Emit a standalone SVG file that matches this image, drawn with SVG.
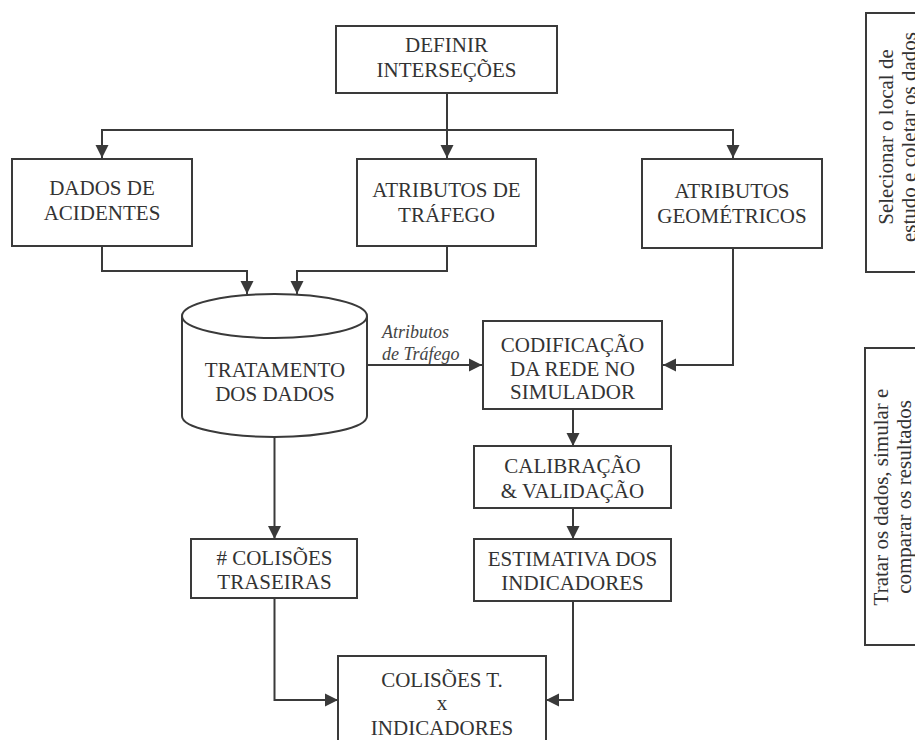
<svg xmlns="http://www.w3.org/2000/svg" width="915" height="740" viewBox="0 0 915 740">
<style>
.box{fill:#fff;stroke:#3a3a3a;stroke-width:2}
.t{font-family:"Liberation Serif","Times New Roman",serif;font-size:21px;fill:#333;text-anchor:middle}
.it{font-family:"Liberation Serif","Times New Roman",serif;font-size:18px;font-style:italic;fill:#444}
.c{fill:none;stroke:#3a3a3a;stroke-width:2}
</style>
<defs>
<marker id="ah" markerUnits="userSpaceOnUse" markerWidth="14" markerHeight="14" viewBox="0 0 14 14" refX="13" refY="7" orient="auto">
<path d="M0,0.5 L13,7 L0,13.5 Z" fill="#3a3a3a"/>
</marker>
</defs>
<rect width="915" height="740" fill="#fff"/>
<g id="connectors">
<path class="c" d="M447,93 V158" marker-end="url(#ah)"/>
<path class="c" d="M447,130 H102 V158" marker-end="url(#ah)"/>
<path class="c" d="M447,130 H733 V158" marker-end="url(#ah)"/>
<path class="c" d="M102,246 V271 H247 V294" marker-end="url(#ah)"/>
<path class="c" d="M447,246 V271 H297 V294" marker-end="url(#ah)"/>
<path class="c" d="M367,365 H482" marker-end="url(#ah)"/>
<path class="c" d="M733,248 V365 H663" marker-end="url(#ah)"/>
<path class="c" d="M274.5,437 V539" marker-end="url(#ah)"/>
<path class="c" d="M573,409 V446" marker-end="url(#ah)"/>
<path class="c" d="M573,508 V539" marker-end="url(#ah)"/>
<path class="c" d="M274.5,598 V700 H338" marker-end="url(#ah)"/>
<path class="c" d="M573,601 V700 H546" marker-end="url(#ah)"/>
<text class="it" x="382" y="338">Atributos</text>
<text class="it" x="382" y="360">de Tráfego</text>
</g>
<g id="definir">
<rect class="box" x="336" y="26" width="221" height="67"/>
<text class="t" x="446.5" y="52">DEFINIR</text>
<text class="t" x="446.5" y="77">INTERSEÇÕES</text>
</g>
<g id="dados-acidentes">
<rect class="box" x="12" y="159" width="180" height="87"/>
<text class="t" x="102" y="195">DADOS DE</text>
<text class="t" x="102" y="220">ACIDENTES</text>
</g>
<g id="atributos-trafego">
<rect class="box" x="357" y="159" width="179" height="87"/>
<text class="t" x="446.5" y="197">ATRIBUTOS DE</text>
<text class="t" x="446.5" y="222">TRÁFEGO</text>
</g>
<g id="atributos-geometricos">
<rect class="box" x="642" y="159" width="180" height="89"/>
<text class="t" x="732" y="198">ATRIBUTOS</text>
<text class="t" x="732" y="223">GEOMÉTRICOS</text>
</g>
<g id="tratamento">
<path class="box" d="M182,316 A92.5,22 0 0 1 367,316 V416 A92.5,21 0 0 1 182,416 Z"/>
<path class="c" d="M182,316 A92.5,22 0 0 0 367,316"/>
<text class="t" x="275" y="377">TRATAMENTO</text>
<text class="t" x="275" y="401">DOS DADOS</text>
</g>
<g id="codificacao">
<rect class="box" x="483" y="321" width="179" height="88"/>
<text class="t" x="572.5" y="352">CODIFICAÇÃO</text>
<text class="t" x="572.5" y="376">DA REDE NO</text>
<text class="t" x="572.5" y="399">SIMULADOR</text>
</g>
<g id="calibracao">
<rect class="box" x="474" y="446" width="197" height="62"/>
<text class="t" x="572.5" y="473">CALIBRAÇÃO</text>
<text class="t" x="572.5" y="498">&amp; VALIDAÇÃO</text>
</g>
<g id="estimativa">
<rect class="box" x="474" y="539" width="197" height="62"/>
<text class="t" x="572.5" y="566">ESTIMATIVA DOS</text>
<text class="t" x="572.5" y="590">INDICADORES</text>
</g>
<g id="colisoes-traseiras">
<rect class="box" x="191" y="539" width="166" height="59"/>
<text class="t" x="274.5" y="565">#  COLISÕES</text>
<text class="t" x="274.5" y="589">TRASEIRAS</text>
</g>
<g id="colisoes-indicadores">
<rect class="box" x="338" y="656" width="208" height="100"/>
<text class="t" x="442" y="687">COLISÕES T.</text>
<text class="t" x="442" y="710">x</text>
<text class="t" x="442" y="735">INDICADORES</text>
</g>
<g id="fase1">
<rect class="box" x="866" y="13" width="80" height="259"/>
<g transform="translate(866,137) rotate(-90)">
<text class="t" x="0" y="27">Selecionar o local de</text>
<text class="t" x="0" y="50">estudo e coletar os dados</text>
</g>
</g>
<g id="fase2">
<rect class="box" x="865" y="348" width="80" height="297"/>
<g transform="translate(865,497) rotate(-90)">
<text class="t" x="0" y="23">Tratar os dados, simular e</text>
<text class="t" x="0" y="46">comparar os resultados</text>
</g>
</g>
</svg>
